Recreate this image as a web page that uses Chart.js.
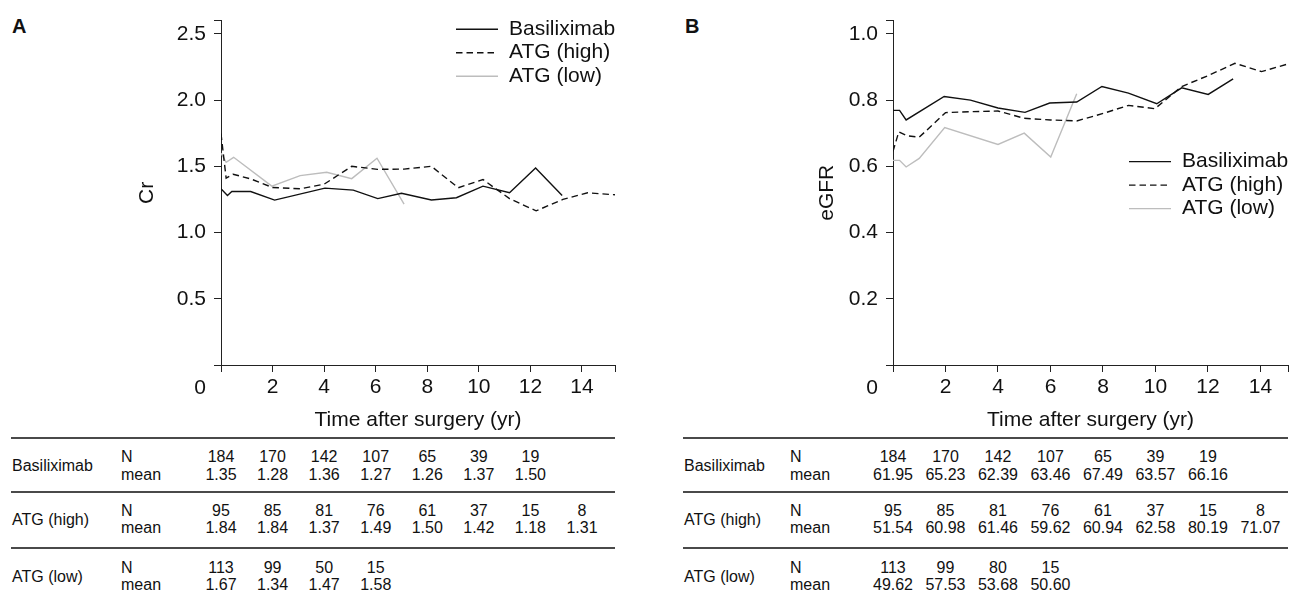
<!DOCTYPE html>
<html>
<head>
<meta charset="utf-8">
<title>Cr and eGFR after surgery</title>
<script src="https://cdn.jsdelivr.net/npm/chart.js@4.4.1/dist/chart.umd.min.js"></script>
<style>
  body { margin: 0; background: #fff; width: 1296px; height: 596px; position: relative; overflow: hidden;
         font-family: "Liberation Sans", Arial, sans-serif; color: #111; }
  .panel { position: absolute; top: 0; }
  .letter { position: absolute; top: 14px; font-weight: bold; font-size: 20px; line-height: 24px; }
  .hline { position: absolute; height: 0; border-top: 2px solid #4a4a4a; }
  .cell { position: absolute; font-size: 16px; line-height: 16px; white-space: nowrap; }
  .num { transform: translateX(-50%); }
</style>
</head>
<body>
<div class="letter" style="left:12px">A</div>
<div class="letter" style="left:685px">B</div>
<canvas id="crChart" class="panel" width="648" height="433" style="left:0"></canvas>
<canvas id="egfrChart" class="panel" width="648" height="433" style="left:648px"></canvas>
<div id="tables"></div>

<script>
// ---- data ----
const groups = ["Basiliximab", "ATG (high)", "ATG (low)"];

// Panel A: Cr
const crBasX  = [0, 0.25, 0.42, 1.15, 2.08, 4.03, 5.13, 6.08, 7.0, 8.16, 9.13, 10.16, 11.19, 12.2, 13.23];
const crBasY  = [1.33, 1.28, 1.31, 1.31, 1.245, 1.335, 1.32, 1.256, 1.296, 1.246, 1.263, 1.35, 1.30, 1.487, 1.28];
const crHighX = [0, 0.2, 0.47, 1.15, 2.0, 3.07, 4.0, 5.07, 6.07, 7.1, 8.16, 9.2, 10.16, 11.19, 12.22, 13.26, 14.22, 15.28];
const crHighY = [1.747, 1.41, 1.44, 1.405, 1.34, 1.33, 1.365, 1.50, 1.477, 1.479, 1.50, 1.338, 1.40, 1.256, 1.164, 1.25, 1.30, 1.285];
const crLowX  = [0, 0.2, 0.49, 1.97, 3.07, 4.1, 5.07, 6.05, 7.1];
const crLowY  = [1.60, 1.53, 1.568, 1.35, 1.43, 1.455, 1.407, 1.561, 1.214];

// Panel B: eGFR
const egBasX  = [0, 0.25, 0.5, 1.95, 2.95, 4.0, 5.03, 5.97, 7.0, 7.96, 8.97, 10.05, 11.0, 12.01, 12.96];
const egBasY  = [0.769, 0.769, 0.740, 0.811, 0.800, 0.776, 0.763, 0.791, 0.794, 0.841, 0.821, 0.789, 0.837, 0.817, 0.864];
const egHighX = [0, 0.22, 0.53, 1.0, 2.0, 2.95, 4.0, 5.0, 6.0, 7.0, 8.02, 8.97, 9.98, 11.0, 12.01, 13.03, 14.04, 15.05];
const egHighY = [0.645, 0.704, 0.692, 0.688, 0.762, 0.765, 0.767, 0.745, 0.740, 0.737, 0.760, 0.784, 0.774, 0.841, 0.874, 0.911, 0.886, 0.909];
const egLowX  = [0, 0.25, 0.5, 1.0, 1.97, 4.0, 5.0, 6.01, 7.0];
const egLowY  = [0.618, 0.618, 0.598, 0.624, 0.717, 0.666, 0.700, 0.628, 0.819];

// axis ticks (last value of each is the axis end, drawn without a label)
const crYTicks = [0, 0.5, 1.0, 1.5, 2.0, 2.5, 2.6];
const egYTicks = [0, 0.2, 0.4, 0.6, 0.8, 1.0, 1.04];
const crXTicks = [0, 2, 4, 6, 8, 10, 12, 14, 15.28];
const egXTicks = [0, 2, 4, 6, 8, 10, 12, 14, 15.05];

// table under the plots, one column per 2 years
const tableYears = [0, 2, 4, 6, 8, 10, 12, 14];
const basN  = [184, 170, 142, 107, 65, 39, 19];
const highN = [95, 85, 81, 76, 61, 37, 15, 8];
const lowCrN = [113, 99, 50, 15];
const lowEgN = [113, 99, 80, 15];
const crBasMean  = [1.35, 1.28, 1.36, 1.27, 1.26, 1.37, 1.50];
const crHighMean = [1.84, 1.84, 1.37, 1.49, 1.50, 1.42, 1.18, 1.31];
const crLowMean  = [1.67, 1.34, 1.47, 1.58];
const egBasMean  = [61.95, 65.23, 62.39, 63.46, 67.49, 63.57, 66.16];
const egHighMean = [51.54, 60.98, 61.46, 59.62, 60.94, 62.58, 80.19, 71.07];
const egLowMean  = [49.62, 57.53, 53.68, 50.60];

const FONT = '"Liberation Sans", Arial, sans-serif';
const FS = 21;
const styles = [
  { borderColor: "#111", borderDash: [] },
  { borderColor: "#111", borderDash: [6.5, 4] },
  { borderColor: "#bdbdbd", borderDash: [] }
];

function toPoints(xs, ys) {
  return xs.map((x, i) => ({ x: x, y: ys[i] }));
}

// legend drawn inside the plot, plus the shifted "0" under the corner
const insideLegend = {
  id: "insideLegend",
  afterDraw(chart, args, opts) {
    const { ctx, chartArea } = chart;
    const x0 = chartArea.right - opts.fromRight;
    ctx.save();
    ctx.font = FS + "px " + FONT;
    ctx.textBaseline = "middle";
    ctx.fillStyle = "#111";
    chart.data.datasets.forEach((ds, i) => {
      const y = chartArea.top + opts.top + i * opts.rowGap;
      ctx.strokeStyle = ds.borderColor;
      ctx.lineWidth = ds.borderWidth;
      ctx.setLineDash(ds.borderDash || []);
      ctx.beginPath();
      ctx.moveTo(x0, y);
      ctx.lineTo(x0 + 42, y);
      ctx.stroke();
      ctx.setLineDash([]);
      ctx.fillText(ds.label, x0 + 53, y);
    });
    ctx.textAlign = "center";
    ctx.fillText("0", chartArea.left - 21, chart.scales.x.top + 23);
    ctx.restore();
  }
};

function makeChart(id, series, yTicks, xTicks, yTitle, cfg) {
  const yMax = yTicks[yTicks.length - 1];
  const xMax = xTicks[xTicks.length - 1];
  const datasets = series.map((s, i) => ({
    label: groups[i],
    data: toPoints(s[0], s[1]),
    borderColor: styles[i].borderColor,
    borderDash: styles[i].borderDash,
    borderWidth: 1.4,
    pointRadius: 0,
    tension: 0,
    fill: false
  }));
  return new Chart(document.getElementById(id), {
    type: "line",
    data: { datasets: datasets },
    options: {
      responsive: false,
      animation: false,
      layout: { padding: { left: 0, top: 16, right: cfg.padRight, bottom: 0 } },
      plugins: {
        legend: { display: false },
        tooltip: { enabled: false },
        insideLegend: { fromRight: 159, top: cfg.legendTop, rowGap: 23.5 }
      },
      scales: {
        x: {
          type: "linear",
          min: 0,
          max: xMax,
          afterBuildTicks: s => { s.ticks = xTicks.map(v => ({ value: v })); },
          afterFit: s => { s.height = 68; },
          grid: { drawOnChartArea: false, drawTicks: true, tickLength: 7, color: "#222" },
          border: { color: "#222", width: 1 },
          ticks: {
            autoSkip: false, maxRotation: 0, padding: 3, color: "#111",
            font: { family: FONT, size: FS },
            callback: v => (v === 0 || v === xMax) ? "" : String(v)
          },
          title: {
            display: true, text: "Time after surgery (yr)", color: "#111",
            font: { family: FONT, size: FS }, padding: { top: 0, bottom: 0 }
          }
        },
        y: {
          min: 0,
          max: yMax,
          afterBuildTicks: s => { s.ticks = yTicks.map(v => ({ value: v })); },
          afterFit: s => { s.width = cfg.yWidth; },
          grid: { drawOnChartArea: false, drawTicks: true, tickLength: 7, color: "#222" },
          border: { color: "#222", width: 1 },
          ticks: {
            autoSkip: false, padding: 8, color: "#111",
            font: { family: FONT, size: FS },
            callback: v => (v === 0 || v === yMax) ? "" : v.toFixed(1)
          },
          title: {
            display: true, text: yTitle, color: "#111",
            font: { family: FONT, size: FS }, padding: { top: cfg.titlePad, bottom: 0 }
          }
        }
      }
    },
    plugins: [insideLegend]
  });
}

const crChart = makeChart("crChart",
  [[crBasX, crBasY], [crHighX, crHighY], [crLowX, crLowY]],
  crYTicks, crXTicks, "Cr",
  { padRight: 33, yWidth: 221, titlePad: 135, legendTop: 8.6 });

const egChart = makeChart("egfrChart",
  [[egBasX, egBasY], [egHighX, egHighY], [egLowX, egLowY]],
  egYTicks, egXTicks, "eGFR",
  { padRight: 8, yWidth: 245, titlePad: 167, legendTop: 141 });

// ---- tables below each plot, columns follow the x scale ----
const host = document.getElementById("tables");
function addDiv(cls, text, left, top, extra) {
  const d = document.createElement("div");
  d.className = cls;
  d.textContent = text;
  d.style.left = left + "px";
  d.style.top = top + "px";
  if (extra) Object.assign(d.style, extra);
  host.appendChild(d);
  return d;
}

function buildTable(chart, offsetX, t) {
  const lineTops = [437, 491, 547];
  const rowMid = [466, 519.5, 576.5];
  lineTops.forEach(y => {
    addDiv("hline", "", t.lineLeft, y, { width: (t.lineRight - t.lineLeft) + "px" });
  });
  t.rows.forEach((r, i) => {
    const mid = rowMid[i];
    addDiv("cell", groups[i], t.labelX, mid - 8);
    addDiv("cell", "N", t.nX, mid - 17);
    addDiv("cell", "mean", t.nX, mid + 0.5);
    r.n.forEach((n, j) => {
      const x = offsetX + chart.scales.x.getPixelForValue(tableYears[j]);
      addDiv("cell num", String(n), x, mid - 17);
      addDiv("cell num", r.mean[j].toFixed(2), x, mid + 0.5);
    });
  });
}

buildTable(crChart, 0, {
  lineLeft: 11, lineRight: 615, labelX: 12, nX: 121,
  rows: [
    { n: basN, mean: crBasMean },
    { n: highN, mean: crHighMean },
    { n: lowCrN, mean: crLowMean }
  ]
});
buildTable(egChart, 648, {
  lineLeft: 683, lineRight: 1288, labelX: 684, nX: 790,
  rows: [
    { n: basN, mean: egBasMean },
    { n: highN, mean: egHighMean },
    { n: lowEgN, mean: egLowMean }
  ]
});
</script>
</body>
</html>
